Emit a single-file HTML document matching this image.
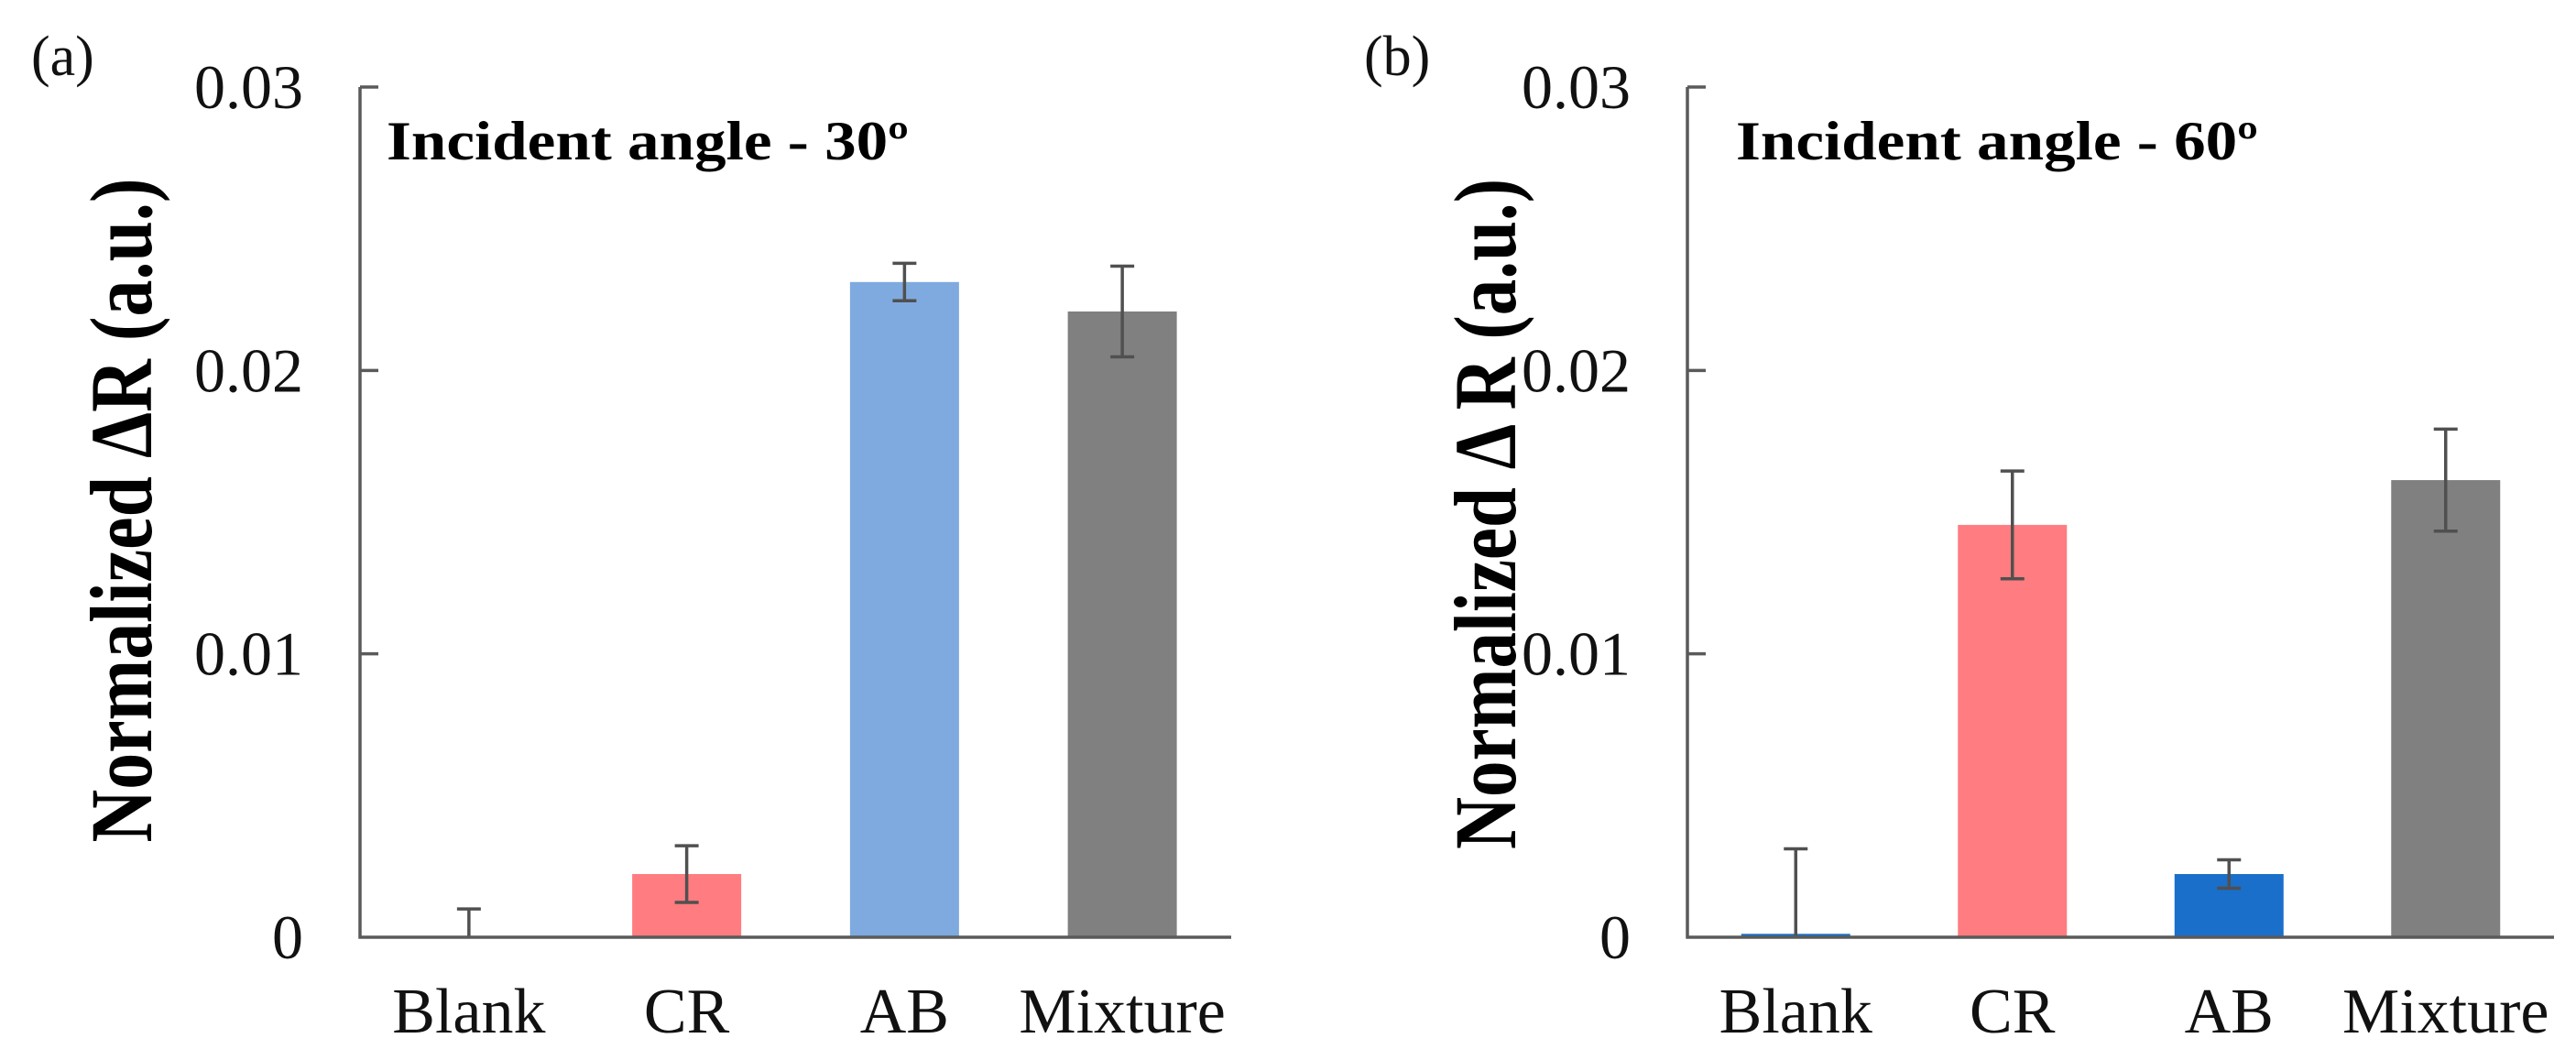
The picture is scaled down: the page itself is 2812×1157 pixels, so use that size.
<!DOCTYPE html>
<html><head><meta charset="utf-8"><title>Normalized ΔR bar charts</title>
<style>
html,body{margin:0;padding:0;background:#fff;}
svg{display:block;}
text{font-family:"Liberation Serif","Times New Roman",serif;}
</style></head>
<body>
<svg id="fig" width="2812" height="1157" viewBox="0 0 2812 1157" xmlns="http://www.w3.org/2000/svg"></svg>
<script>
const categories = ["Blank", "CR", "AB", "Mixture"];
const valuesA = [0, 0.00223, 0.02312, 0.02208];
const errorsA = [0.001, 0.001, 0.00066, 0.0016];
const valuesB = [0.00012, 0.01455, 0.00223, 0.01613];
const errorsB = [0.0030, 0.0019, 0.0005, 0.0018];
const tickValues = [0, 0.01, 0.02, 0.03];
const tickLabels = ["0", "0.01", "0.02", "0.03"];
const colorsA = ["#7faadf", "#ff7c80", "#7faadf", "#808080"];
const colorsB = ["#1a6fca", "#ff7c80", "#1a6fca", "#808080"];

const NS = "http://www.w3.org/2000/svg";
const svg = document.getElementById("fig");
function mk(tag, attrs, parent) {
  const e = document.createElementNS(NS, tag);
  for (const k in attrs) e.setAttribute(k, attrs[k]);
  (parent || svg).appendChild(e);
  return e;
}

function panel(cfg) {
  const g = mk("g", {});
  
  
  const y0 = 1023, yTop = 95, yMax = 0.03;
  const yScale = v => y0 - (v / yMax) * (y0 - yTop);
  const xStep = (cfg.xEnd - cfg.axisX) / categories.length;
  const xScale = i => cfg.axisX + xStep * (i + 0.5);
  const barW = 119;

  categories.forEach((c, i) => {
    const v = cfg.values[i];
    const yv = yScale(v);
    const r = mk("rect", {x: xScale(i) - barW / 2, y: yv, width: barW, height: Math.max(y0 - yv, 0), fill: cfg.colors[i]}, g);
    
    
  });
  categories.forEach((c, i) => {
    const v = cfg.values[i], e = cfg.errors[i];
    const xc = xScale(i);
    const hi = yScale(v + e), lo = Math.min(yScale(Math.max(v - e, 0)), y0);
    const eg = mk("g", {stroke: "#505050", "stroke-width": 3.5, fill: "none"}, g);
    
    
    mk("line", {x1: xc, y1: hi, x2: xc, y2: lo}, eg);
    mk("line", {x1: xc - 13, y1: hi, x2: xc + 13, y2: hi}, eg);
    if (v - e > 0) mk("line", {x1: xc - 13, y1: lo, x2: xc + 13, y2: lo}, eg);
  });
  const ya = mk("line", {x1: cfg.axisX, y1: yTop, x2: cfg.axisX, y2: y0 + 1.5, stroke: "#5a5a5a", "stroke-width": 3.5}, g);
  
  
  const xa = mk("line", {x1: cfg.axisX - 1.5, y1: y0, x2: cfg.xEnd, y2: y0, stroke: "#5a5a5a", "stroke-width": 3.5}, g);
  
  
  tickValues.forEach((t, i) => {
    const y = yScale(t);
    if (t > 0) {
      const tk = mk("line", {x1: cfg.axisX, y1: y, x2: cfg.axisX + 20, y2: y, stroke: "#5a5a5a", "stroke-width": 3.5}, g);
      
      
    }
    const tl = mk("text", {x: cfg.tickRight, y: y + 23, "text-anchor": "end", "font-size": 68, fill: "#111"}, g);
    tl.textContent = tickLabels[i];
    
    
  });
  categories.forEach((c, i) => {
    const t = mk("text", {x: xScale(i), y: 1127, "text-anchor": "middle", "font-size": 70, fill: "#111"}, g);
    t.textContent = c;
    
    
  });
  const yt = mk("text", {x: 0, y: 0, "text-anchor": "middle", "font-size": 96, "font-weight": "bold", fill: "#000",
    transform: `translate(${cfg.titleX},${cfg.titleY}) rotate(-90)`, textLength: cfg.titleLen, lengthAdjust: "spacingAndGlyphs"}, g);
  yt.textContent = cfg.yTitle;
  
  
  const it = mk("text", {x: cfg.labelX, y: 174, "font-size": 60, "font-weight": "bold", fill: "#000", textLength: 570, lengthAdjust: "spacingAndGlyphs"}, g);
  it.textContent = cfg.label;
  
  
  const pl = mk("text", {x: cfg.letterX, y: 82, "font-size": 62, fill: "#111"}, g);
  pl.textContent = cfg.letter;
  
  
}

panel({name: "panel-a", axisX: 393, xEnd: 1344, values: valuesA, errors: errorsA, colors: colorsA,
  tickRight: 331, titleX: 165, titleY: 557, titleLen: 725, yTitle: "Normalized \u0394R (a.u.)",
  labelX: 422, label: "Incident angle - 30\u00ba", letterX: 34, letter: "(a)"});
panel({name: "panel-b", axisX: 1842, xEnd: 2788, values: valuesB, errors: errorsB, colors: colorsB,
  tickRight: 1780, titleX: 1654, titleY: 561, titleLen: 732, yTitle: "Normalized \u0394 R (a.u.)",
  labelX: 1895, label: "Incident angle - 60\u00ba", letterX: 1489, letter: "(b)"});
</script>
</body></html>
